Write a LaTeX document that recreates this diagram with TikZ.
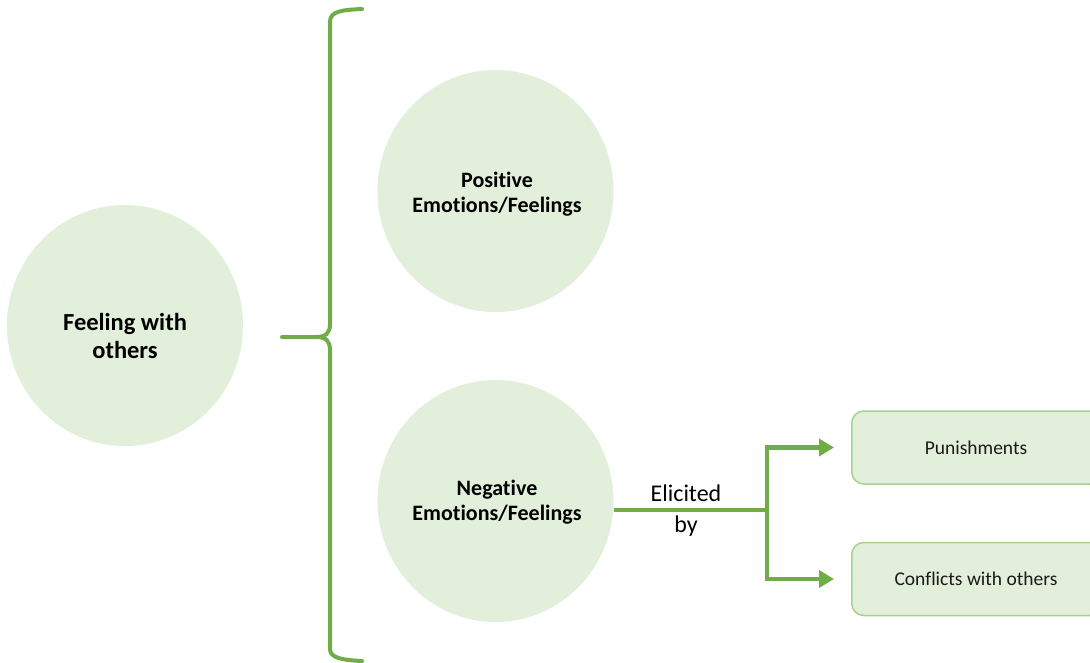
\documentclass[tikz,border=0pt]{standalone}
\usepackage{fontspec}
\setmainfont{Carlito}[Ligatures=NoCommon]
\usetikzlibrary{arrows.meta,shapes.geometric}
\definecolor{gline}{HTML}{70AD47}
\definecolor{gfill}{HTML}{E2EFDA}
\definecolor{gborder}{HTML}{A9D18E}
\definecolor{txt}{HTML}{1A1A1A}
\tikzset{
  ell/.style={ellipse, fill=gfill, draw=none, minimum width=236pt, minimum height=242pt, inner sep=0pt},
  eltext/.style={align=center, font=\fontsize{22}{25}\selectfont\bfseries, text=black, inner sep=0pt},
  boxnode/.style={rounded corners=12pt, fill=gfill, draw=gborder, line width=1.5pt, minimum width=250pt, minimum height=73pt, anchor=west},
  boxtext/.style={font=\fontsize{19.5}{23}\selectfont, text=txt},
  conn/.style={draw=gline, line width=4.5pt},
  arr/.style={conn, -{Triangle[length=15pt,width=17pt]}},
  bracestyle/.style={draw=gline, line width=4pt, line cap=round}
}
\begin{document}
\begin{tikzpicture}[x=1pt,y=-1pt]
\clip (0,0) rectangle (1090,663);
\fill[white] (0,0) rectangle (1090,663);
% main ellipse
\node[ell, minimum height=241pt] (fw) at (125,325.5) {};
\node[eltext, font=\fontsize{24.5}{28}\selectfont\bfseries] (fwt) at (125,336) {Feeling with\\others};
% brace
\draw[bracestyle] (362,9) .. controls (342,10) and (330,11) .. (330,22) -- (330,324)
  .. controls (330,333) and (326,337) .. (316,337) -- (282,337);
\draw[bracestyle] (316,337) .. controls (326,337) and (330,341) .. (330,350) -- (330,649)
  .. controls (330,658) and (342,660) .. (362,661);
% right ellipses
\node[ell] (pos) at (495.5,191) {};
\node[eltext] (post) at (497,194.5) {Positive\\Emotions/Feelings};
\node[ell] (neg) at (495.5,501) {};
\node[eltext] (negt) at (497,502.5) {Negative\\Emotions/Feelings};
% boxes
\node[boxnode] (pun) at (851,447.5) {};
\node[boxtext] (punt) at (976,447.5) {Punishments};
\node[boxnode] (con) at (851,579) {};
\node[boxtext] (cont) at (976,579) {Conflicts with others};
% connectors
\coordinate (j) at (767,510);
\draw[conn] (neg.east |- j) -- (j);
\draw[arr] ([yshift=-2.25pt]j) |- ([xshift=-17pt]pun.west);
\draw[arr] ([yshift=2.25pt]j) |- ([xshift=-17pt]con.west);
\node[align=center, font=\fontsize{24}{31}\selectfont, text=black, inner sep=0pt] (eb) at (686,510.5) {Elicited\\by};
\end{tikzpicture}
\end{document}
